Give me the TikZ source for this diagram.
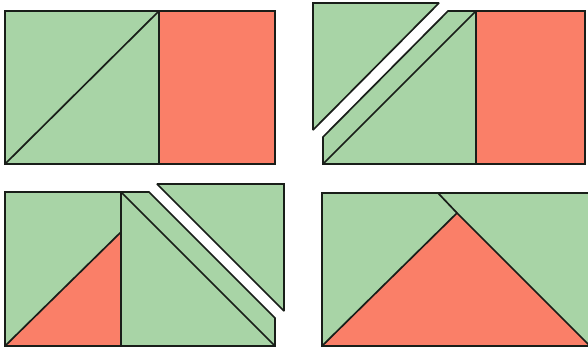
\documentclass[tikz,border=0pt]{standalone}
\definecolor{pgreen}{RGB}{168,212,166}
\definecolor{pred}{RGB}{250,127,104}
\definecolor{pline}{RGB}{25,30,25}
\begin{document}
\begin{tikzpicture}[x=1pt,y=-1pt,
  gpiece/.style={fill=pgreen,draw=pline,line width=1.7pt,line join=miter,miter limit=2},
  rpiece/.style={fill=pred,draw=pline,line width=1.7pt,line join=miter,miter limit=2},
  cut/.style={draw=pline,line width=1.7pt}]
\useasboundingbox (0,0) rectangle (588,347);
\fill[white] (0,0) rectangle (588,347);
% Panel 1 (top left)
\path[gpiece] (5,11) rectangle (159,164);
\path[rpiece] (159,11) rectangle (275,164);
\draw[cut] (5,164) -- (159,11);
% Panel 2 (top right)
\path[gpiece] (313,3) -- (439,3) -- (313,130) -- cycle;
\path[gpiece] (448,11) -- (476,11) -- (476,164) -- (323,164) -- (323,137) -- cycle;
\draw[cut] (323,164) -- (476,11);
\path[rpiece] (476,11) rectangle (585,164);
% Panel 3 (bottom left)
\path[gpiece] (5,192) rectangle (121,346);
\path[rpiece] (5,346) -- (121,346) -- (121,232) -- cycle;
\path[gpiece] (121,192) -- (149,192) -- (275,318) -- (275,346) -- (121,346) -- cycle;
\draw[cut] (121,192) -- (275,346);
\path[gpiece] (157,184) -- (284,184) -- (284,311) -- cycle;
% Panel 4 (bottom right)
\path[gpiece] (322,193) rectangle (592,346);
\path[rpiece] (322,346) -- (457,213) -- (590,346) -- cycle;
\draw[cut] (438,193) -- (457,213);
\end{tikzpicture}
\end{document}
